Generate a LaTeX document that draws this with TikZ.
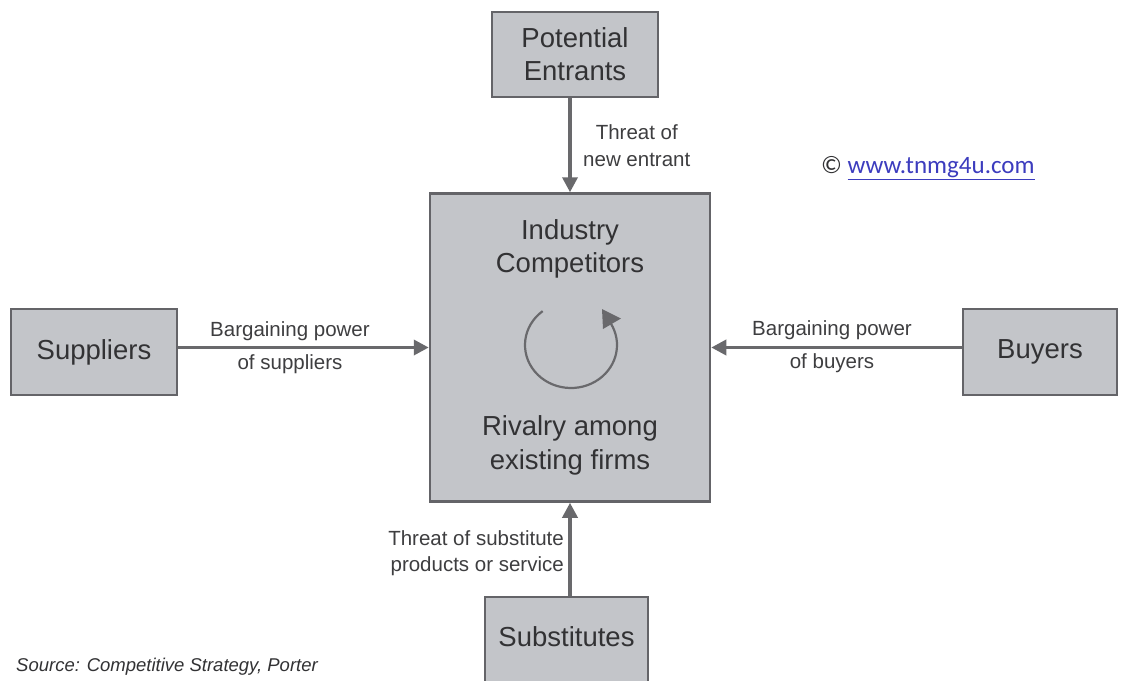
\documentclass[tikz,border=0pt]{standalone}
\usepackage{fontspec}
\setmainfont{Liberation Sans}
\newfontfamily\calib{Carlito}
\usetikzlibrary{arrows.meta}
\definecolor{boxfill}{RGB}{195,197,201}
\definecolor{boxline}{RGB}{100,100,104}
\definecolor{arrcol}{RGB}{105,105,108}
\definecolor{txtcol}{RGB}{50,50,52}
\definecolor{lblcol}{RGB}{62,62,64}
\definecolor{linkblue}{RGB}{60,60,190}
\begin{document}
\begin{tikzpicture}[x=1pt,y=1pt,
  forcebox/.style={draw=boxline, fill=boxfill, line width=2.5pt, inner sep=0pt,
    align=center, text=txtcol, font=\fontsize{27.5}{33}\selectfont},
  forcearrow/.style={draw=arrcol, line width=3.5pt, -{Triangle[length=15pt,width=15pt]}},
  lbl/.style={text=lblcol, font=\fontsize{20.5}{27}\selectfont, inner sep=0pt, align=center}
]
\useasboundingbox (0,0) rectangle (1124,-680);
\fill[white] (0,0) rectangle (1124,-680);
\begin{scope}
\clip (0,0) rectangle (1124,-680);
% boxes
\node[forcebox, minimum width=166pt, minimum height=85pt] (pe) at (575,-54.5) {Potential\\Entrants};
\node[forcebox, minimum width=280pt, minimum height=308pt] (ind) at (570,-347.5) {};
\node[forcebox, minimum width=166pt, minimum height=86pt] (sup) at (94,-352) {Suppliers};
\node[forcebox, minimum width=154pt, minimum height=86pt] (buy) at (1040,-352) {Buyers};
\node[forcebox, minimum width=163pt, minimum height=120pt] (sub) at (566.5,-657) {};
\node[text=txtcol, font=\fontsize{27.5}{33}\selectfont, inner sep=0pt] (subt) at (566.5,-637) {Substitutes};
% texts inside industry box
\node[text=txtcol, font=\fontsize{27.5}{33}\selectfont, align=center, inner sep=0pt] (indt) at (570,-249) {Industry\\Competitors};
\node[text=txtcol, font=\fontsize{27.5}{34}\selectfont, align=center, inner sep=0pt] (rivt) at (570,-445) {Rivalry among\\existing firms};
% rivalry circular arrow
\coordinate (cc) at (571,-345);
\draw[draw=arrcol, line width=2.2pt]
  (cc) ++(128:46pt and 43pt) arc[start angle=128, end angle=390, x radius=46pt, y radius=43pt];
\fill[arrcol] (602,-309) -- (621,-318.5) -- (603,-329) -- cycle;
% arrows
\draw[forcearrow] (pe.south -| ind.center) -- (ind.north);
\draw[forcearrow] (sup.east |- ind.center) -- (ind.west);
\draw[forcearrow] (buy.west |- ind.center) -- (ind.east);
\draw[forcearrow] (sub.north -| ind.center) -- (ind.south);
% labels
\node[lbl, anchor=west] (l1) at (583,-146) {Threat of\\new entrant};
\node[lbl] (l2a) at (290,-331) {Bargaining power};
\node[lbl] (l2b) at (290,-364) {of suppliers};
\node[lbl] (l3a) at (832,-330) {Bargaining power};
\node[lbl] (l3b) at (832,-363) {of buyers};
\node[lbl, anchor=east, align=right, font=\fontsize{20.5}{26}\selectfont] (l4) at (564,-553) {Threat of substitute\\products or service};
% copyright
\node[anchor=west, inner sep=0pt, font=\calib\fontsize{25}{30}\selectfont] (copy) at (821,-168)
  {\textcolor{txtcol}{©} \textcolor{linkblue}{\underline{www.tnmg4u.com}}};
% source
\node[anchor=west, inner sep=0pt, text=txtcol, font=\itshape\fontsize{18.5}{22}\selectfont] (src) at (16,-667)
  {Source: Competitive Strategy, Porter};
\end{scope}
\end{tikzpicture}
\end{document}
